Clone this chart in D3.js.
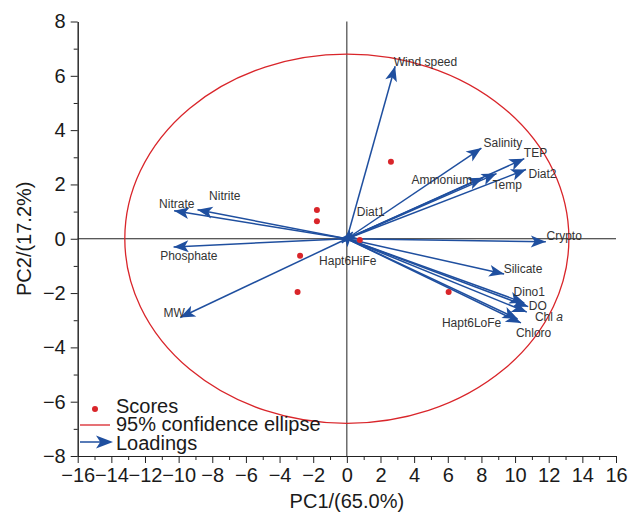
<!DOCTYPE html>
<html><head><meta charset="utf-8">
<script src="https://cdn.jsdelivr.net/npm/d3@7"></script>
<style>
body{margin:0;background:#fff;}
svg{display:block;font-family:"Liberation Sans",Arial,sans-serif;}
</style></head>
<body><svg id="c" width="637" height="514"></svg>
<script>
// ---- data ----
const xMajorTicks = [-16,-14,-12,-10,-8,-6,-4,-2,0,2,4,6,8,10,12,14,16];
const xMinorTicks = [-15,-13,-11,-9,-7,-5,-3,-1,1,3,5,7,9,11,13,15];
const yMajorTicks = [-8,-6,-4,-2,0,2,4,6,8];
const yMinorTicks = [-7,-5,-3,-1,1,3,5,7];
const xTitle = "PC1/(65.0%)";
const yTitle = "PC2/(17.2%)";

const scorePC1 = [2.62, -1.78, -1.78, -2.78, -2.93, 0.77, 6.05];
const scorePC2 = [2.84, 1.06, 0.64, -0.63, -1.96, -0.05, -1.96];

const loadingNames = ["Wind speed","Salinity","TEP","Diat2","Ammonium","Temp","Diat1",
  "Crypto","Silicate","Dino1","DO","Chl a","Chloro","Hapt6LoFe",
  "Nitrate","Nitrite","Phosphate","MW","Hapt6HiFe"];
const loadingPC1 = [2.87, 8.0, 10.55, 10.65, 8.1, 8.9, 0.35,
  11.83, 9.35, 10.55, 10.78, 10.7, 10.35, 10.15,
  -10.27, -8.88, -10.3, -9.91, -0.3];
const loadingPC2 = [6.35, 3.34, 2.95, 2.55, 2.25, 2.4, 0.25,
  -0.11, -1.3, -2.36, -2.5, -2.7, -3.1, -2.95,
  1.03, 1.07, -0.3, -2.9, -0.15];
// label anchor (left edge, middle) in data units
const labelPC1 = [2.79, 8.13, 10.52, 10.8, 3.85, 8.66, 0.59,
  11.87, 9.32, 9.91, 10.82, 11.18, 10.05, 5.65,
  -11.16, -8.19, -11.1, -10.9, -1.65];
const labelPC2 = [6.53, 3.55, 3.17, 2.4, 2.18, 1.99, 1.0,
  0.11, -1.11, -1.94, -2.47, -2.88, -3.46, -3.09,
  1.30, 1.59, -0.63, -2.72, -0.81];

const ellipseRadiusPC1 = 13.2;
const ellipseRadiusPC2 = 6.8;

const legendLabels = ["Scores","95% confidence ellipse","Loadings"];

// ---- styles ----
const blue = "#1f4f9f", red = "#d9252a";

const svg = d3.select("#c");
const x = d3.scaleLinear().domain([-16,16]).range([77.7,616]);
const y = d3.scaleLinear().domain([-8,8]).range([456,21.5]);

// zero lines
svg.append("line").attr("x1",x(0)).attr("x2",x(0)).attr("y1",y(8)).attr("y2",y(-8))
  .attr("stroke","#222").attr("stroke-width",1);
svg.append("line").attr("x1",x(-16)).attr("x2",x(16)).attr("y1",y(0)).attr("y2",y(0))
  .attr("stroke","#222").attr("stroke-width",1);

// ellipse
svg.append("ellipse").attr("cx",x(0)).attr("cy",y(0))
  .attr("rx",x(ellipseRadiusPC1)-x(0)).attr("ry",y(0)-y(ellipseRadiusPC2))
  .attr("fill","none").attr("stroke",red).attr("stroke-width",1.3);

// axes
function styleAxis(g){
  g.selectAll("path,line").attr("stroke","#222").attr("stroke-width",1);
  g.selectAll("text").attr("font-size",20).attr("fill","#1a1a1a")
    .attr("font-family","Liberation Sans, Arial, sans-serif");
}
const gx = svg.append("g").attr("transform",`translate(0,${y(-8)})`);
gx.call(d3.axisBottom(x).tickValues(xMajorTicks).tickSize(7).tickSizeOuter(0).tickPadding(5)).call(styleAxis);
const gxm = svg.append("g").attr("transform",`translate(0,${y(-8)})`);
gxm.call(d3.axisBottom(x).tickValues(xMinorTicks).tickSize(4).tickSizeOuter(0).tickFormat("")).call(styleAxis);
const gy = svg.append("g").attr("transform",`translate(${x(-16)},0)`);
gy.call(d3.axisLeft(y).tickValues(yMajorTicks).tickSize(7).tickSizeOuter(0).tickPadding(5)).call(styleAxis);
const gym = svg.append("g").attr("transform",`translate(${x(-16)},0)`);
gym.call(d3.axisLeft(y).tickValues(yMinorTicks).tickSize(4).tickSizeOuter(0).tickFormat("")).call(styleAxis);

// titles
svg.append("text").attr("x",(x(-16)+x(16))/2).attr("y",508).attr("text-anchor","middle")
  .attr("font-size",20).attr("fill","#1a1a1a").text(xTitle);
svg.append("text").attr("transform",`translate(31,${y(0)}) rotate(-90)`).attr("text-anchor","middle")
  .attr("font-size",20).attr("fill","#1a1a1a").text(yTitle);

// arrowhead helper
function arrowHead(x0,y0,x1,y1,L,W){
  const dx=x1-x0, dy=y1-y0, len=Math.hypot(dx,dy)||1;
  const ux=dx/len, uy=dy/len, nx=-uy, ny=ux;
  const bx=x1-L*ux, by=y1-L*uy;
  const ix=x1-0.75*L*ux, iy=y1-0.75*L*uy;
  return `M${x1},${y1}L${bx+W*nx},${by+W*ny}L${ix},${iy}L${bx-W*nx},${by-W*ny}Z`;
}

// loadings
const loadings = loadingNames.map((n,i)=>({name:n,px:loadingPC1[i],py:loadingPC2[i],lx:labelPC1[i],ly:labelPC2[i]}));
const gl = svg.append("g");
gl.selectAll("line.ld").data(loadings).enter().append("line")
  .attr("x1",x(0)).attr("y1",y(0))
  .attr("x2",d=>x(d.px)).attr("y2",d=>y(d.py))
  .attr("stroke",blue).attr("stroke-width",1.5);
gl.selectAll("path.ah").data(loadings).enter().append("path")
  .attr("d",d=>arrowHead(x(0),y(0),x(d.px),y(d.py),15,6))
  .attr("fill",blue);

// loading labels
const gt = svg.append("g");
gt.selectAll("text").data(loadings).enter().append("text")
  .attr("x",d=>x(d.lx)).attr("y",d=>y(d.ly)).attr("dy","0.35em")
  .attr("font-size",12).attr("fill","#333")
  .each(function(d){
    const t=d3.select(this);
    if(d.name==="Chl a"){ t.append("tspan").text("Chl "); t.append("tspan").attr("font-style","italic").text("a"); }
    else t.text(d.name);
  });

// scores
svg.append("g").selectAll("circle").data(scorePC1.map((v,i)=>[v,scorePC2[i]])).enter().append("circle")
  .attr("cx",d=>x(d[0])).attr("cy",d=>y(d[1])).attr("r",3).attr("fill",red);

// legend
const lg = svg.append("g");
lg.append("circle").attr("cx",95).attr("cy",409).attr("r",3).attr("fill",red);
lg.append("line").attr("x1",80).attr("x2",110).attr("y1",425).attr("y2",425).attr("stroke",red).attr("stroke-width",1.3);
lg.append("line").attr("x1",80).attr("x2",102).attr("y1",442).attr("y2",442).attr("stroke",blue).attr("stroke-width",1.5);
lg.append("path").attr("d",arrowHead(80,442,113,442,17,6.5)).attr("fill",blue);
[413,431,450].forEach((b,i)=>{
  lg.append("text").attr("x",116).attr("y",b).attr("font-size",20).attr("fill","#1a1a1a").text(legendLabels[i]);
});
</script></body></html>
